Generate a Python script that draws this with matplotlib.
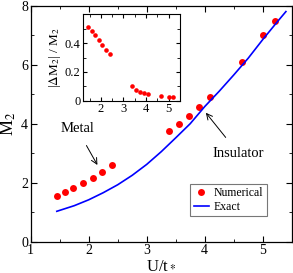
import matplotlib
matplotlib.use('Agg')
import matplotlib.pyplot as plt
from matplotlib.ticker import MultipleLocator

plt.rcParams['font.family'] = ['Liberation Serif', 'DejaVu Serif']
plt.rcParams['mathtext.fontset'] = 'stix'

# numerical M2 (metal branch + insulator branch)
u_num = [1.45, 1.59, 1.73, 1.90, 2.07, 2.23, 2.41,
         3.39, 3.56, 3.73, 3.91, 4.09, 4.64, 5.01, 5.21]
m2_num = [1.55, 1.67, 1.82, 1.99, 2.17, 2.36, 2.59,
          3.75, 3.99, 4.27, 4.58, 4.92, 6.10, 7.01, 7.49]

# exact curve
u_exact = [1.45, 1.75, 2.0, 2.25, 2.5, 2.75, 3.0, 3.25, 3.5, 3.75,
           4.0, 4.25, 4.5, 4.75, 5.0, 5.25, 5.4]
m2_exact = [1.03, 1.22, 1.42, 1.66, 1.93, 2.25, 2.62, 3.05, 3.52, 4.0,
            4.58, 5.1, 5.65, 6.22, 6.85, 7.45, 7.8]

# relative deviation for the inset
rel_dev = [0.515, 0.485, 0.455, 0.422, 0.387, 0.352, 0.322,
           0.102, 0.077, 0.063, 0.053, 0.044, 0.030, 0.023, 0.023]

fig = plt.figure(figsize=(2.93, 2.73), dpi=100)
ax = fig.add_axes([0.1048, 0.1147, 0.8908, 0.8645])

ax.plot(u_num, m2_num, 'o', color='red', markersize=5, markeredgewidth=0, label='Numerical')
ax.plot(u_exact, m2_exact, '-', color='blue', lw=1.2, label='Exact')

ax.set_xlim(1, 5.5)
ax.set_ylim(0, 8)
ax.xaxis.set_major_locator(MultipleLocator(1))
ax.xaxis.set_minor_locator(MultipleLocator(0.5))
ax.yaxis.set_major_locator(MultipleLocator(2))
ax.yaxis.set_minor_locator(MultipleLocator(1))
ax.tick_params(which='both', direction='in', top=True, right=True, labelsize=10, pad=2)
ax.tick_params(which='major', length=4)
ax.tick_params(which='minor', length=2.5)
for s in ax.spines.values():
    s.set_linewidth(0.9)
ax.set_xlabel('U/t$_*$', fontsize=12, labelpad=0)
ax.set_ylabel('M$_2$', fontsize=13, labelpad=2)

ax.annotate('Metal', xy=(2.15, 2.60), xytext=(1.80, 3.82), fontsize=10.5,
            ha='center', va='center',
            arrowprops=dict(arrowstyle='->', color='black', lw=0.7, shrinkA=6, shrinkB=0))
ax.annotate('Insulator', xy=(4.02, 4.37), xytext=(4.58, 3.0), fontsize=10.5,
            ha='center', va='center',
            arrowprops=dict(arrowstyle='->', color='black', lw=0.7, shrinkA=6, shrinkB=0))

leg = ax.legend(loc='lower right', bbox_to_anchor=(0.905, 0.108), fontsize=8.5, frameon=True,
                fancybox=False, edgecolor='#555555', handlelength=1.3, handletextpad=0.4,
                borderpad=0.3, labelspacing=0.1, numpoints=1, borderaxespad=0)
leg.get_frame().set_linewidth(0.8)

ins = fig.add_axes([0.2823, 0.6311, 0.332, 0.3165])
ins.plot(u_num, rel_dev, 'o', color='red', markersize=3.3, markeredgewidth=0)
ins.set_xlim(1.2, 5.5)
ins.set_ylim(0, 0.6)
ins.xaxis.set_major_locator(MultipleLocator(1))
ins.xaxis.set_minor_locator(MultipleLocator(0.5))
ins.set_yticks([0, 0.2, 0.4])
ins.set_yticklabels(['0', '0.2', '0.4'])
ins.yaxis.set_minor_locator(MultipleLocator(0.1))
ins.tick_params(which='both', direction='in', top=True, right=True, labelsize=9, pad=1.5)
ins.tick_params(which='major', length=3)
ins.tick_params(which='minor', length=2)
for s in ins.spines.values():
    s.set_linewidth(0.8)
ins.set_ylabel('|$\\Delta$M$_2$| / M$_2$', fontsize=9.5, labelpad=1)

fig.savefig('out.png', dpi=100)
